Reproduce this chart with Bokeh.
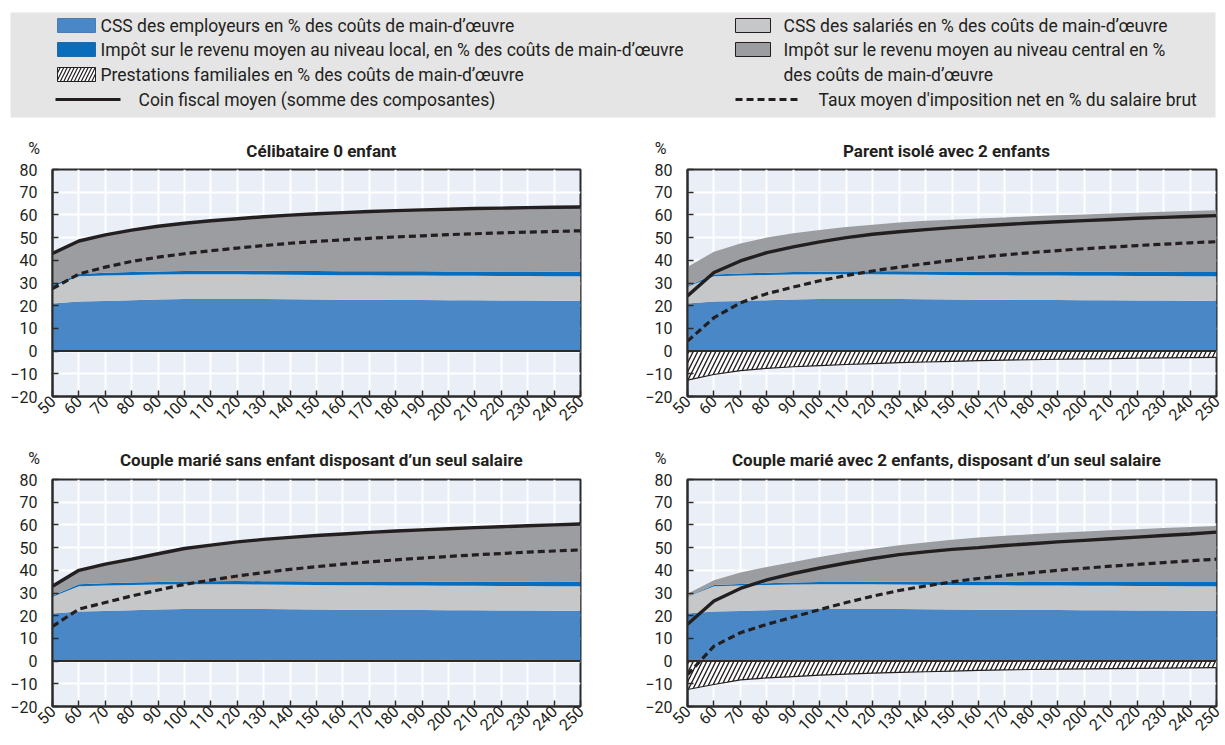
import math
from bokeh.plotting import figure
from bokeh.layouts import column, row
from bokeh.models import Range1d, FixedTicker, Span
from bokeh.core.properties import value
from bokeh.embed import file_html
from bokeh.resources import INLINE

FONT = "Roboto"

# ---------------- data ----------------
wage_levels = [50, 60, 70, 80, 90, 100, 110, 120, 130, 140, 150, 160, 170, 180, 190, 200, 210, 220, 230, 240, 250]
y_ticks = [-20, -10, 0, 10, 20, 30, 40, 50, 60, 70, 80]

employer_ssc = [21.0, 21.8, 22.1, 22.4, 22.7, 22.9, 23.0, 23.0, 22.9, 22.8, 22.7, 22.6, 22.6, 22.5, 22.5, 22.4, 22.4, 22.3, 22.3, 22.2, 22.2]
employee_ssc = [7.3, 11.2, 11.2, 11.1, 11.0, 10.9, 10.8, 10.8, 10.8, 10.8, 10.8, 10.8, 10.8, 10.8, 10.8, 10.8, 10.8, 10.8, 10.8, 10.8, 10.8]

# Célibataire 0 enfant
single_local = [0.7, 1.0, 1.2, 1.3, 1.4, 1.5, 1.6, 1.6, 1.7, 1.7, 1.8, 1.8, 1.8, 1.9, 1.9, 1.9, 1.9, 2.0, 2.0, 2.0, 2.0]
single_central = [14.0, 14.5, 16.7, 18.5, 19.9, 21.0, 22.0, 22.9, 23.8, 24.6, 25.2, 25.8, 26.3, 26.7, 27.0, 27.4, 27.7, 27.9, 28.1, 28.4, 28.5]
single_benefits = None
single_wedge = [43.0, 48.5, 51.2, 53.3, 55.0, 56.3, 57.4, 58.3, 59.2, 59.9, 60.5, 61.0, 61.5, 61.9, 62.2, 62.5, 62.8, 63.0, 63.2, 63.4, 63.5]
single_net = [27.5, 34.0, 37.0, 39.5, 41.4, 42.9, 44.2, 45.4, 46.5, 47.5, 48.3, 49.0, 49.7, 50.3, 50.8, 51.3, 51.7, 52.1, 52.4, 52.7, 53.0]

# Parent isolé avec 2 enfants
parent_local = [0.4, 0.7, 0.9, 1.0, 1.1, 1.2, 1.3, 1.4, 1.5, 1.5, 1.6, 1.6, 1.7, 1.7, 1.8, 1.8, 1.8, 1.9, 1.9, 1.9, 1.9]
parent_central = [8.4, 10.1, 13.2, 15.5, 17.1, 18.4, 19.6, 20.5, 21.4, 22.3, 22.8, 23.4, 23.8, 24.4, 24.7, 25.2, 25.6, 26.0, 26.4, 26.8, 27.1]
parent_benefits = [-12.8, -10.3, -8.6, -7.6, -6.9, -6.4, -5.9, -5.5, -5.1, -4.8, -4.5, -4.2, -4.0, -3.8, -3.6, -3.4, -3.3, -3.1, -3.0, -2.9, -2.8]
parent_wedge = [24.3, 34.6, 39.7, 43.4, 45.9, 48.1, 50.0, 51.5, 52.6, 53.5, 54.4, 55.1, 55.8, 56.4, 57.0, 57.5, 58.0, 58.5, 58.9, 59.3, 59.7]
parent_net = [4.4, 14.7, 21.3, 25.3, 28.2, 31.0, 33.3, 35.3, 37.0, 38.5, 40.0, 41.3, 42.4, 43.4, 44.3, 45.1, 45.8, 46.5, 47.1, 47.7, 48.2]

# Couple marié sans enfant disposant d'un seul salaire
couple_local = [0.5, 0.8, 1.0, 1.1, 1.2, 1.3, 1.4, 1.5, 1.5, 1.6, 1.6, 1.7, 1.7, 1.8, 1.8, 1.8, 1.9, 1.9, 1.9, 1.9, 2.0]
couple_central = [4.2, 6.2, 8.4, 10.3, 12.4, 14.5, 15.9, 17.2, 18.4, 19.3, 20.2, 20.9, 21.6, 22.2, 22.7, 23.3, 23.7, 24.2, 24.6, 25.1, 25.4]
couple_benefits = None
couple_wedge = [33.0, 40.0, 42.7, 44.9, 47.3, 49.6, 51.1, 52.5, 53.6, 54.5, 55.3, 56.0, 56.7, 57.3, 57.8, 58.3, 58.8, 59.2, 59.6, 60.0, 60.4]
couple_net = [15.3, 22.9, 25.8, 28.7, 31.3, 33.8, 35.7, 37.5, 39.0, 40.4, 41.6, 42.7, 43.7, 44.6, 45.4, 46.1, 46.8, 47.4, 48.0, 48.5, 49.0]

# Couple marié avec 2 enfants, disposant d'un seul salaire
family_local = [0.2, 0.5, 0.7, 0.8, 0.9, 1.0, 1.1, 1.2, 1.3, 1.4, 1.5, 1.5, 1.6, 1.6, 1.7, 1.7, 1.7, 1.8, 1.8, 1.8, 1.8]
family_central = [1.2, 2.1, 5.0, 7.2, 9.1, 11.1, 12.9, 14.5, 16.0, 17.3, 18.5, 19.5, 20.2, 21.0, 21.5, 22.2, 22.7, 23.2, 23.7, 24.3, 24.7]
family_benefits = [-12.5, -10.3, -8.3, -7.4, -6.8, -6.2, -5.7, -5.3, -5.0, -4.7, -4.4, -4.1, -3.9, -3.7, -3.5, -3.4, -3.3, -3.2, -3.1, -3.0, -2.9]
family_wedge = [16.2, 26.5, 32.0, 35.8, 38.6, 41.0, 43.2, 45.2, 46.9, 48.1, 49.2, 50.0, 50.9, 51.7, 52.5, 53.2, 53.9, 54.6, 55.3, 56.0, 56.8]
family_net = [-6.0, 6.6, 12.5, 16.2, 19.4, 22.7, 25.8, 28.6, 31.1, 33.1, 34.9, 36.4, 37.7, 38.9, 40.0, 40.9, 41.8, 42.6, 43.4, 44.2, 44.9]

titles = ["Célibataire 0 enfant", "Parent isolé avec 2 enfants",
          "Couple marié sans enfant disposant d\u2019un seul salaire",
          "Couple marié avec 2 enfants, disposant d\u2019un seul salaire"]
unit_label = "%"

legend_labels = ["CSS des employeurs en % des coûts de main-d\u2019œuvre",
                 "Impôt sur le revenu moyen au niveau local, en % des coûts de main-d\u2019œuvre",
                 "Prestations familiales en % des coûts de main-d\u2019œuvre",
                 "Coin fiscal moyen (somme des composantes)",
                 "CSS des salariés en % des coûts de main-d\u2019œuvre",
                 "Impôt sur le revenu moyen au niveau central en %",
                 "des coûts de main-d\u2019œuvre",
                 "Taux moyen d'imposition net en % du salaire brut"]

# ---------------- styles ----------------
C_EMPLOYER = "#4a87c6"
C_EMPLOYEE = "#c6c7c9"
C_LOCAL = "#0a6dbb"
C_CENTRAL = "#9c9da1"
C_BG = "#e9eef7"
C_DARK = "#231f20"
DASH = "7 4"
PAGE_W = 1225


def make_panel(local, central, benefits, wedge, net, width, height, bl, br, bt, bb):
    p = figure(width=width, height=height, x_range=Range1d(50, 250), y_range=Range1d(-20, 80),
               min_border_left=bl, min_border_right=br, min_border_top=bt, min_border_bottom=bb,
               output_backend="svg", toolbar_location=None,
               background_fill_color=C_BG, border_fill_color="white",
               outline_line_color="#2b2b2b", outline_line_width=2)
    n = len(wage_levels)
    l1 = employer_ssc
    l2 = [l1[i] + employee_ssc[i] for i in range(n)]
    l3 = [l2[i] + local[i] for i in range(n)]
    l4 = [l3[i] + central[i] for i in range(n)]
    zeros = [0] * n
    p.varea(x=wage_levels, y1=zeros, y2=l1, fill_color=C_EMPLOYER)
    p.varea(x=wage_levels, y1=l1, y2=l2, fill_color=C_EMPLOYEE)
    p.varea(x=wage_levels, y1=l2, y2=l3, fill_color=C_LOCAL)
    p.varea(x=wage_levels, y1=l3, y2=l4, fill_color=C_CENTRAL)
    if benefits is not None:
        p.varea(x=wage_levels, y1=benefits, y2=zeros, fill_color="white",
                hatch_pattern="/", hatch_color=C_DARK, hatch_scale=9, hatch_weight=1.4)
        p.line(wage_levels, benefits, line_color=C_DARK, line_width=1.2)
    p.add_layout(Span(location=0, dimension="width", line_color="#2b2b2b", line_width=2))
    p.line(wage_levels, wedge, line_color=C_DARK, line_width=3.4)
    p.line(wage_levels, net, line_color=C_DARK, line_width=3.2, line_dash=DASH)

    p.xaxis.ticker = FixedTicker(ticks=wage_levels)
    p.yaxis.ticker = FixedTicker(ticks=y_ticks)
    p.xgrid.ticker = FixedTicker(ticks=wage_levels)
    p.ygrid.ticker = FixedTicker(ticks=y_ticks)
    p.grid.grid_line_color = "white"
    p.grid.grid_line_width = 2
    p.axis.major_tick_in = 6
    p.axis.major_tick_out = 0
    p.axis.minor_tick_line_color = None
    p.axis.major_tick_line_color = "#2b2b2b"
    p.axis.major_tick_line_width = 1.5
    p.axis.axis_line_color = "#2b2b2b"
    p.axis.axis_line_width = 2
    p.axis.major_label_text_font = FONT
    p.axis.major_label_text_font_size = "16px"
    p.axis.major_label_text_color = C_DARK
    p.xaxis.major_label_orientation = math.pi / 4
    p.xaxis.major_label_standoff = 2
    p.yaxis.major_label_standoff = 15
    return p


def make_header(height, pct_x, pct_y, title_x, title_y, title_texts):
    h = figure(width=PAGE_W, height=height, x_range=Range1d(0, PAGE_W), y_range=Range1d(height, 0),
               min_border=0, x_axis_location=None, y_axis_location=None,
               output_backend="svg", toolbar_location=None,
               background_fill_color="white", border_fill_color="white", outline_line_color=None)
    h.grid.visible = False
    h.text(x=pct_x, y=pct_y, text=[unit_label] * len(pct_x), text_font=value(FONT),
           text_font_size="16px", text_color=C_DARK, text_align="center", text_baseline="middle")
    h.text(x=title_x, y=title_y, text=title_texts, text_font=value(FONT), text_font_style="bold",
           text_font_size="17px", text_color=C_DARK, text_align="center", text_baseline="middle")
    return h


# ---------------- legend ----------------
lg = figure(width=PAGE_W, height=120, x_range=Range1d(0, 1205), y_range=Range1d(105, 0),
            min_border_left=10, min_border_right=10, min_border_top=12, min_border_bottom=3,
            x_axis_location=None, y_axis_location=None,
            output_backend="svg", toolbar_location=None,
            background_fill_color="#e5e5e5", border_fill_color="white", outline_line_color=None)
lg.grid.visible = False

rows_y = [13, 37, 62, 87]
fs = "17.5px"
lg.rect(x=[66], y=[rows_y[0]], width=38, height=14, fill_color=C_EMPLOYER, line_color="#3a6fa5", line_width=0.8)
lg.rect(x=[66], y=[rows_y[1]], width=38, height=14, fill_color=C_LOCAL, line_color="#0a5a99", line_width=0.8)
lg.rect(x=[66], y=[rows_y[2]], width=38, height=14, fill_color="white", line_color=C_DARK, line_width=1,
        hatch_pattern="/", hatch_color=C_DARK, hatch_scale=7, hatch_weight=1.2)
lg.line(x=[45, 110], y=[rows_y[3], rows_y[3]], line_color=C_DARK, line_width=3.2)
lg.text(x=[90, 90, 90, 128], y=rows_y, text=legend_labels[:4],
        text_font=value(FONT), text_font_size=fs, text_color=C_DARK,
        text_baseline="middle", text_align="left")
lg.rect(x=[742.5], y=[rows_y[0]], width=35, height=14, fill_color=C_EMPLOYEE, line_color=C_DARK, line_width=1)
lg.rect(x=[742.5], y=[rows_y[1]], width=35, height=14, fill_color=C_CENTRAL, line_color=C_DARK, line_width=1)
lg.line(x=[725, 787], y=[rows_y[3], rows_y[3]], line_color=C_DARK, line_width=3.2, line_dash=DASH)
lg.text(x=[773, 773, 773, 808], y=rows_y, text=legend_labels[4:],
        text_font=value(FONT), text_font_size=fs, text_color=C_DARK,
        text_baseline="middle", text_align="left")

# ---------------- headers (unit + panel titles) ----------------
hd1 = make_header(42, [24, 661], [28, 28], [316, 951.5], [30, 30], titles[:2])
hd2 = make_header(40, [24, 661], [26, 26], [316, 951.5], [27, 27], titles[2:])

# ---------------- panels ----------------
p1 = make_panel(single_local, single_central, single_benefits, single_wedge, single_net,
                600, 270, 52, 20, 7, 36)
p2 = make_panel(parent_local, parent_central, parent_benefits, parent_wedge, parent_net,
                625, 270, 87, 9, 7, 36)
p3 = make_panel(couple_local, couple_central, couple_benefits, couple_wedge, couple_net,
                600, 273, 52, 20, 7, 39)
p4 = make_panel(family_local, family_central, family_benefits, family_wedge, family_net,
                625, 273, 87, 9, 7, 39)

layout = column(lg, hd1, row(p1, p2), hd2, row(p3, p4))
open("out.html", "w").write(file_html(layout, INLINE))
